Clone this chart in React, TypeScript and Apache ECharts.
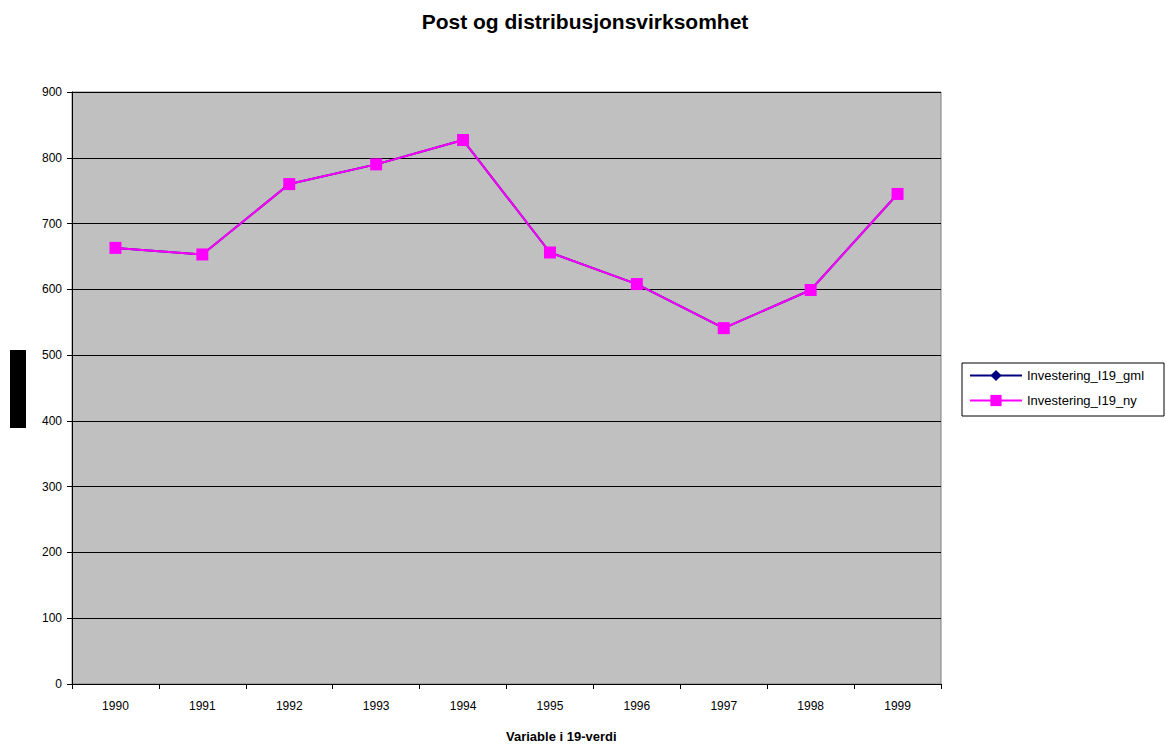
import React, { useEffect, useRef } from "react";
import * as echarts from "echarts";

const categories = ["1990", "1991", "1992", "1993", "1994", "1995", "1996", "1997", "1998", "1999"];
const seriesGml = [663, 653, 760, 790, 827, 656, 608, 541, 599, 745];
const seriesNy = [663, 653, 760, 790, 827, 656, 608, 541, 599, 745];
const yTicks = { min: 0, max: 900, interval: 100 };

export default function App() {
  const ref = useRef<HTMLDivElement>(null);
  useEffect(() => {
    if (!ref.current) return;
    const chart = echarts.init(ref.current, undefined, { renderer: "svg" });
    chart.setOption({
      animation: false,
      backgroundColor: "#ffffff",
      textStyle: { fontFamily: "Liberation Sans, Arial, sans-serif" },
      title: {
        text: "Post og distribusjonsvirksomhet",
        left: 580,
        textAlign: "center",
        top: 6,
        textStyle: { fontSize: 21, fontWeight: "bold", color: "#000", fontFamily: "Liberation Sans, Arial, sans-serif" },
      },
      grid: {
        left: 72,
        right: 225,
        top: 92,
        bottom: 63,
        show: true,
        backgroundColor: "#C0C0C0",
        borderColor: "#808080",
        borderWidth: 1,
      },
      legend: {
        orient: "vertical",
        left: 962,
        top: 363,
        padding: [6, 7, 6, 7],
        itemWidth: 52,
        itemHeight: 14,
        itemGap: 12,
        data: ["Investering_I19_gml", "Investering_I19_ny"],
        textStyle: { fontSize: 13, color: "#000", fontFamily: "Liberation Sans, Arial, sans-serif" },
      },
      xAxis: {
        type: "category",
        data: categories,
        boundaryGap: true,
        axisLine: { lineStyle: { color: "#000", width: 1 } },
        axisTick: { show: true, length: 5, inside: false, alignWithLabel: false, lineStyle: { color: "#000" } },
        axisLabel: { color: "#000", fontSize: 12, margin: 16 },
        splitLine: { show: false },
      },
      yAxis: {
        type: "value",
        min: yTicks.min,
        max: yTicks.max,
        interval: yTicks.interval,
        axisLine: { show: true, lineStyle: { color: "#000", width: 1 } },
        axisTick: { show: true, length: 5, lineStyle: { color: "#000" } },
        axisLabel: { color: "#000", fontSize: 12, margin: 10 },
        splitLine: { show: true, lineStyle: { color: "#000", width: 1 } },
      },
      graphic: [
        {
          type: "rect",
          shape: { x: 962, y: 363, width: 202, height: 53 },
          style: { fill: "#ffffff", stroke: "#000", lineWidth: 1 },
          z: -1,
          zlevel: 0,
        },
        {
          type: "rect",
          shape: { x: 10, y: 350, width: 16, height: 78 },
          style: { fill: "#000" },
        },
        {
          type: "text",
          left: 506,
          top: 730,
          style: {
            text: "Variable i 19-verdi",
            fontSize: 13,
            fontWeight: "bold",
            fill: "#000",
            textAlign: "center",
            fontFamily: "Liberation Sans, Arial, sans-serif",
          },
        },
      ],
      series: [
        {
          name: "Investering_I19_gml",
          type: "line",
          data: seriesGml,
          symbol: "diamond",
          symbolSize: 10,
          lineStyle: { color: "#000080", width: 2 },
          itemStyle: { color: "#000080" },
          z: 2,
        },
        {
          name: "Investering_I19_ny",
          type: "line",
          data: seriesNy,
          symbol: "rect",
          symbolSize: 12,
          lineStyle: { color: "#FF00FF", width: 2 },
          itemStyle: { color: "#FF00FF" },
          z: 3,
        },
      ],
    });
    return () => chart.dispose();
  }, []);
  return <div ref={ref} style={{ width: 1166, height: 747, position: "absolute", left: 0, top: 0 }} />;
}
